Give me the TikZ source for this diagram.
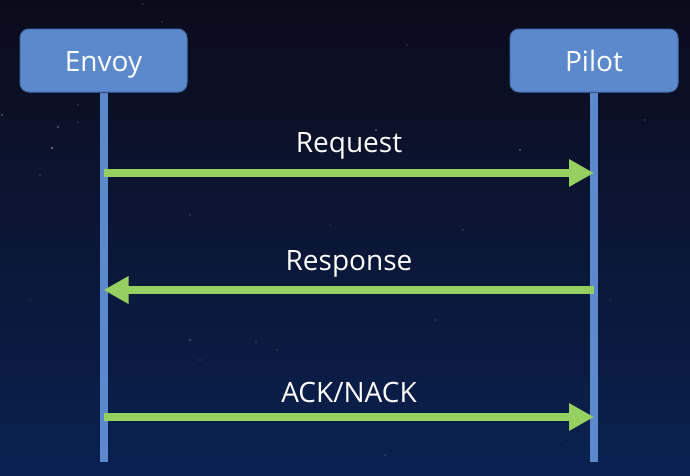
\documentclass[tikz,border=0pt]{standalone}
\usepackage{fontspec}
\setmainfont{Open Sans}
\usetikzlibrary{arrows.meta}
\definecolor{boxblue}{RGB}{91,137,204}
\definecolor{boxedge}{RGB}{70,110,175}
\definecolor{arrowgreen}{RGB}{150,208,96}
\definecolor{bgtop}{RGB}{11,11,26}
\definecolor{bgbot}{RGB}{10,33,80}
\begin{document}
\begin{tikzpicture}[x=1pt,y=-1pt,
  actor/.style={draw=boxedge,line width=1pt,fill=boxblue,rounded corners=9pt,
    minimum width=167pt,minimum height=63pt,text=white,
    font=\fontsize{28}{30}\selectfont,text height=28pt,text depth=6pt,inner sep=0pt},
  lifeline/.style={draw=boxblue,line width=8pt},
  msg/.style={draw=arrowgreen,line width=8pt,-{Triangle[length=25pt,width=26pt]}},
  msglabel/.style={text=white,font=\fontsize{28}{30}\selectfont,anchor=base,inner sep=0pt},
  star/.style={fill=white,opacity=0.45}]
\fill[top color=bgtop,bottom color=bgbot] (0,0) rectangle (690,475);
\useasboundingbox (0,0) rectangle (690,475);
% faint stars
\foreach \sx/\sy/\sr in {2/115/0.9,58/127/0.8,78/122/0.7,52/148/1.2,78/105/0.6,143/4/0.7,
  40/175/0.7,190/215/0.6,330/225/0.5,376/130/0.8,520/150/0.8,256/342/0.6,
  190/340/0.8,200/360/0.6,277/350/0.7,162/22/0.6,407/45/0.7,645/120/0.6,
  463/230/0.6,610/300/0.5,435/320/0.6,30/300/0.5,560/440/0.5,385/455/0.6}
  \fill[star] (\sx,\sy) circle (\sr);
\node[actor] (envoy) at (103.5,60.5) {Envoy};
\node[actor,minimum width=168pt] (pilot) at (594,60.5) {Pilot};
\coordinate (eEnd) at (103.5,462);
\coordinate (pEnd) at (594,462);
\draw[lifeline] (envoy.south) -- (eEnd);
\draw[lifeline] (pilot.south) -- (pEnd);
\coordinate (e1) at (103.5,173);
\coordinate (p1) at (594,173);
\coordinate (e2) at (103.5,290);
\coordinate (p2) at (594,290);
\coordinate (e3) at (103.5,417);
\coordinate (p3) at (594,417);
\draw[msg] (e1) -- (p1);
\draw[msg] (p2) -- (e2);
\draw[msg] (e3) -- (p3);
\node[msglabel] (lreq) at (349,152) {Request};
\node[msglabel] (lresp) at (349,270) {Response};
\node[msglabel] (lack) at (349,402) {ACK/NACK};
\end{tikzpicture}
\end{document}
